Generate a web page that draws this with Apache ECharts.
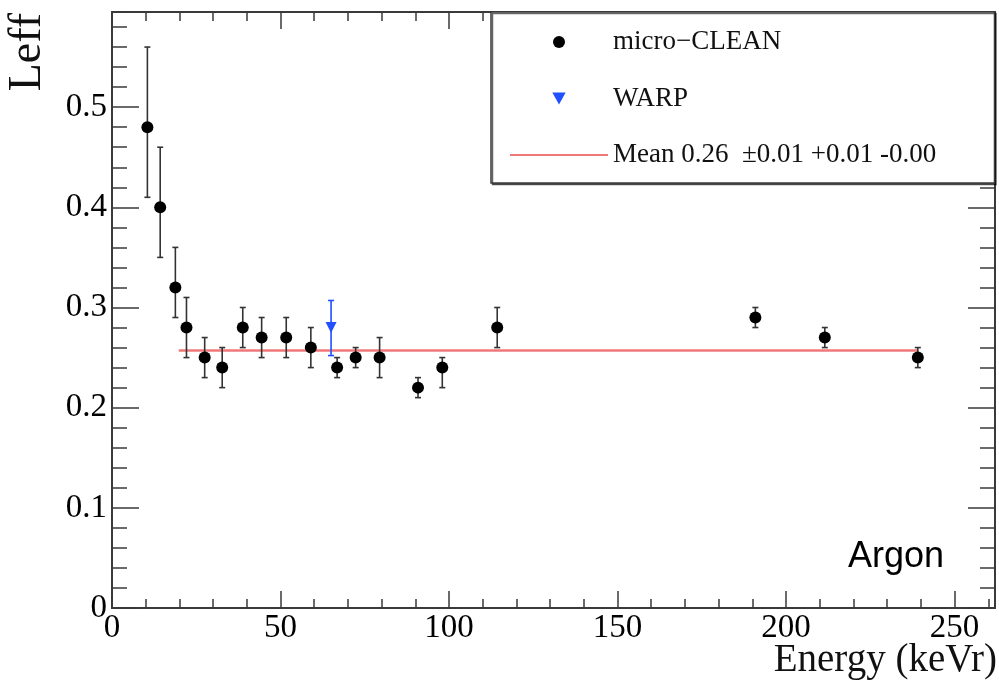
<!DOCTYPE html>
<html>
<head>
<meta charset="utf-8">
<script src="https://cdn.jsdelivr.net/npm/echarts@6/dist/echarts.min.js"></script>
<style>
  html, body { margin: 0; padding: 0; background: #fff; }
  #chart { width: 999px; height: 685px; }
</style>
</head>
<body>
<div id="chart"></div>
<script>
// micro-CLEAN points: energy (keVr), Leff and the error bar ends
const cleanEnergy = [10.5, 14.3, 18.8, 22.1, 27.5, 32.7, 38.8, 44.4, 51.7, 59.0, 66.8, 72.3, 79.4, 90.8, 98.0, 114.3, 190.9, 211.5, 239.1]
const cleanLeff   = [0.48, 0.40, 0.32, 0.28, 0.25, 0.24, 0.28, 0.27, 0.27, 0.26, 0.24, 0.25, 0.25, 0.22, 0.24, 0.28, 0.29, 0.27, 0.25]
const cleanLow    = [0.41, 0.35, 0.29, 0.25, 0.23, 0.22, 0.26, 0.25, 0.25, 0.24, 0.23, 0.24, 0.23, 0.21, 0.22, 0.26, 0.28, 0.26, 0.24]
const cleanHigh   = [0.56, 0.46, 0.36, 0.31, 0.27, 0.26, 0.30, 0.29, 0.29, 0.28, 0.25, 0.26, 0.27, 0.23, 0.25, 0.30, 0.30, 0.28, 0.26]

// WARP point
const warpEnergy = [65.0]
const warpLeff   = [0.28]
const warpLow    = [0.252]
const warpHigh   = [0.307]

// fitted mean
const meanRange = [19.8, 239.1]
const meanValue = 0.257

const xMin = 0, xMax = 262
const yMin = 0, yMax = 0.595

const serif = '"Liberation Serif", "DejaVu Serif", serif'
const frameColor = '#3a3a3a'
const meanLabel = 'Mean 0.26  \u00b10.01 +0.01 -0.00'

const chart = echarts.init(document.getElementById('chart'))

function xAxis(position, interval, tickLen, withLabels) {
  return {
    type: 'value', position: position, min: xMin, max: xMax, interval: interval,
    axisLine: { show: withLabels !== null, onZero: false, lineStyle: { color: frameColor, width: 2 } },
    axisTick: { show: true, inside: true, length: tickLen, lineStyle: { color: frameColor, width: 1.5 } },
    axisLabel: { show: !!withLabels, margin: 4, showMaxLabel: false, color: '#000', fontFamily: serif, fontSize: 33 },
    splitLine: { show: false }
  }
}
function yAxis(position, interval, tickLen, withLabels) {
  return {
    type: 'value', position: position, min: yMin, max: yMax, interval: interval,
    axisLine: { show: withLabels !== null, onZero: false, lineStyle: { color: frameColor, width: 2 } },
    axisTick: { show: true, inside: true, length: tickLen, lineStyle: { color: frameColor, width: 1.5 } },
    axisLabel: { show: !!withLabels, margin: 5, showMaxLabel: false, color: '#000', fontFamily: serif, fontSize: 33 },
    splitLine: { show: false }
  }
}

// width of the longest legend text, used to size the legend box
const ctx = document.createElement('canvas').getContext('2d')
ctx.font = '27px ' + serif
const textW = ctx.measureText(meanLabel).width
const legLeft = 491, legPadL = 18, legIconW = 98
const legPadR = Math.max(4, 995 - (legLeft + legPadL + legIconW + 5 + textW) - 1.5)

const cleanPts = cleanEnergy.map((x, i) => [x, cleanLeff[i]])
const cleanBars = cleanEnergy.map((x, i) => [x, cleanLow[i], cleanHigh[i]])
const warpPts = warpEnergy.map((x, i) => [x, warpLeff[i]])
const warpBars = warpEnergy.map((x, i) => [x, warpLow[i], warpHigh[i]])

function errorBar(color) {
  return function (params, api) {
    const x = api.value(0)
    const lo = api.coord([x, api.value(1)])
    const hi = api.coord([x, api.value(2)])
    const cap = 3
    const style = { stroke: color, lineWidth: 1.6 }
    return {
      type: 'group',
      children: [
        { type: 'line', shape: { x1: lo[0], y1: lo[1], x2: hi[0], y2: hi[1] }, style: style },
        { type: 'line', shape: { x1: lo[0] - cap, y1: lo[1], x2: lo[0] + cap, y2: lo[1] }, style: style },
        { type: 'line', shape: { x1: hi[0] - cap, y1: hi[1], x2: hi[0] + cap, y2: hi[1] }, style: style }
      ]
    }
  }
}

const option = {
  animation: false,
  backgroundColor: '#fff',
  grid: { left: 112, top: 12, width: 883, height: 596, containLabel: false },
  xAxis: [
    xAxis('bottom', 50, 17, true),
    xAxis('bottom', 10, 9, false),
    xAxis('top', 50, 17, false),
    xAxis('top', 10, 9, false)
  ],
  yAxis: [
    yAxis('left', 0.1, 27, true),
    yAxis('left', 0.02, 15, false),
    yAxis('right', 0.1, 27, false),
    yAxis('right', 0.02, 15, false)
  ],
  legend: {
    orient: 'vertical',
    left: legLeft, top: 12,
    padding: [16, legPadR, 14, legPadL],
    itemWidth: legIconW, itemHeight: 12, itemGap: 28.5,
    symbolKeepAspect: true,
    backgroundColor: '#fff',
    borderColor: frameColor, borderWidth: 1.5,
    shadowColor: 'rgba(0,0,0,0.6)', shadowOffsetX: 1.5, shadowOffsetY: 1.5, shadowBlur: 0,
    textStyle: { fontFamily: serif, fontSize: 27, lineHeight: 28, color: '#111' },
    data: [
      'micro\u2212CLEAN',
      { name: 'WARP', icon: 'path://M0,0L10,0L5,9Z' },
      { name: meanLabel, itemStyle: { opacity: 0 } }
    ]
  },
  graphic: [
    { type: 'text', left: 848, top: 539, style: { text: 'Argon', font: '36px "Liberation Sans", Arial, sans-serif', fill: '#000' } },
    { type: 'text', x: 997, y: 661, style: { text: 'Energy (keVr)', font: '39px ' + serif, fill: '#111', align: 'right', verticalAlign: 'middle' } },
    { type: 'text', x: 28, y: 13, rotation: Math.PI / 2, style: { text: 'Leff', font: '46px ' + serif, fill: '#111', align: 'right', verticalAlign: 'middle' } }
  ],
  series: [
    {
      type: 'line', name: meanLabel, data: [[meanRange[0], meanValue], [meanRange[1], meanValue]],
      symbol: 'none', z: 1,
      lineStyle: { color: '#f07878', width: 2.5 }, itemStyle: { color: '#f07878' }
    },
    { type: 'custom', name: 'cleanErr', data: cleanBars, renderItem: errorBar('#333'), z: 2, silent: true },
    { type: 'custom', name: 'warpErr', data: warpBars, renderItem: errorBar('#2050ff'), z: 2, silent: true },
    {
      type: 'scatter', name: 'micro\u2212CLEAN', data: cleanPts, symbol: 'circle', symbolSize: 12, z: 3,
      itemStyle: { color: '#000', opacity: 1 }
    },
    {
      type: 'scatter', name: 'WARP', data: warpPts, symbol: 'triangle', symbolRotate: 180, symbolSize: 11,
      symbolKeepAspect: true, z: 3,
      itemStyle: { color: '#2050ff', opacity: 1 }
    }
  ]
}

chart.setOption(option)
</script>
</body>
</html>
